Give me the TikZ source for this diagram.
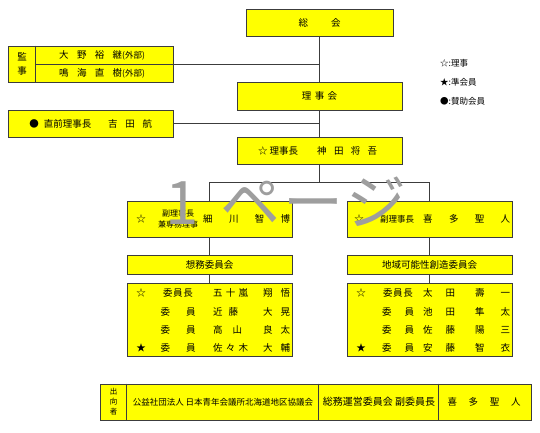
\documentclass[tikz,border=0pt]{standalone}
\usepackage{fontspec}
\setmainfont{Noto Sans CJK JP}
\usetikzlibrary{positioning,calc}
\definecolor{boxyellow}{RGB}{255,255,0}
\definecolor{edgegray}{RGB}{60,60,60}

\begin{document}
\begin{tikzpicture}[
  x=1pt, y=-1pt,
  font=\fontsize{9.5}{11}\selectfont,
  box/.style={draw=edgegray, line width=0.8pt, fill=boxyellow, rectangle, inner sep=0pt, minimum width=165pt},
  conn/.style={draw=edgegray, line width=0.7pt},
  txt/.style={inner sep=0pt},
  small/.style={font=\fontsize{8.5}{10}\selectfont}
]
\fill[white] (0,0) rectangle (540,432);
\useasboundingbox (0,0) rectangle (540,432);

% top of the chart
\node[box, minimum width=147pt, minimum height=27pt] (soukai) at (319.5,22.5) {総\hspace{23pt}会};
\node[box, minimum height=28pt] (rijikai) at (319.5,96) {理\hspace{3.5pt}事\hspace{3.5pt}会};
\node[box, minimum height=27pt] (rijicho) at (319.5,150.5) {};
\node[txt, anchor=west] (rijicholabel) at (258,150.5) {☆\hspace{2pt}理事長\hspace{19pt}\makebox[60pt][s]{神\hfill 田\hfill 将\hfill 吾}};

% auditors and past chairman
\node[box, minimum height=36pt] (kanji) at (90.5,64) {};
\draw[conn] ([xshift=28pt]kanji.north west) -- ([xshift=28pt]kanji.south west);
\draw[conn] ([xshift=28pt]kanji.west) -- (kanji.east);
\node[txt, align=center, font=\fontsize{9.5}{14}\selectfont] (kanjilabel) at (22,64) {監\\事};
\node[txt, anchor=west] (kanji1) at (59,55) {\makebox[63pt][s]{大\hfill 野\hfill 裕\hfill 継}{\fontsize{8.5}{9}\selectfont(外部)}};
\node[txt, anchor=west] (kanji2) at (59,73) {\makebox[63pt][s]{鳴\hfill 海\hfill 直\hfill 樹}{\fontsize{8.5}{9}\selectfont(外部)}};

\node[box, minimum height=27pt] (zen) at (90.5,123.5) {};
\node[txt] (zenmark) at (34,123.5) {●};
\node[txt] (zentitle) at (67.5,123.5) {直前理事長};
\node[txt, anchor=west] (zenname) at (108,123.5) {\makebox[44pt][s]{吉\hfill 田\hfill 航}};

% legend
\node[txt, anchor=west, small] (legend1) at (440,63) {☆:理事};
\node[txt, anchor=west, small] (legend2) at (440,82) {★:準会員};
\node[txt, anchor=west, small] (legend3) at (440,101) {●:賛助会員};

% vice chairmen
\coordinate (split) at (319.5,182);
\node[box, minimum height=36pt] (fukuL) at (209.5,219) {};
\node[txt] (fukuLmark) at (141,219) {☆};
\node[txt, align=center, font=\fontsize{8}{10.5}\selectfont] (fukuLtitle) at (178,219) {副理事長\\兼専務理事};
\node[txt, anchor=west] (fukuLname) at (203,219) {\makebox[87pt][s]{細\hfill 川\hfill 智\hfill 博}};

\node[box, minimum height=36pt] (fukuR) at (429.5,219) {};
\node[txt] (fukuRmark) at (359,219) {☆};
\node[txt, font=\fontsize{8.5}{10}\selectfont] (fukuRtitle) at (397,219) {副理事長};
\node[txt, anchor=west] (fukuRname) at (423,219) {\makebox[87pt][s]{喜\hfill 多\hfill 聖\hfill 人}};

% committees
\node[box, minimum height=19pt] (soumu) at (209.5,264.5) {想務委員会};
\node[box, minimum height=19pt] (chiiki) at (429.5,264.5) {地域可能性創造委員会};

\node[box, minimum height=73pt] (memL) at (209.5,319.5) {};
\node[box, minimum height=73pt] (memR) at (429.5,319.5) {};

\foreach \i/\ypos/\mk/\tw/\ttl/\sw/\sur/\given in {
  1/293/☆/30/{委\hfill 員\hfill 長}/35/{五\hfill 十\hfill 嵐}/{翔\hfill 悟},
  2/312//35/{委\hfill 員}/25/{近\hfill 藤}/{大\hfill 晃},
  3/330//35/{委\hfill 員}/29/{高\hfill 山}/{良\hfill 太},
  4/348/★/35/{委\hfill 員}/35/{佐\hfill 々\hfill 木}/{大\hfill 輔}} {
  \node[txt] (memLmark\i) at (141,\ypos) {\mk};
  \node[txt] (memLtitle\i) at (178,\ypos) {\makebox[\tw pt][s]{\ttl}};
  \node[txt, anchor=west] (memLsur\i) at (213,\ypos) {\makebox[\sw pt][s]{\sur}};
  \node[txt, anchor=west] (memLgiven\i) at (263,\ypos) {\makebox[27pt][s]{\given}};
}

\foreach \i/\ypos/\mk/\tw/\ttl/\sur/\given in {
  1/293/☆/30/{委\hfill 員\hfill 長}/{太\hfill 田}/{壽\hfill 一},
  2/312//32/{委\hfill 員}/{池\hfill 田}/{隼\hfill 太},
  3/330//32/{委\hfill 員}/{佐\hfill 藤}/{陽\hfill 三},
  4/348/★/32/{委\hfill 員}/{安\hfill 藤}/{智\hfill 衣}} {
  \node[txt] (memRmark\i) at (361,\ypos) {\mk};
  \node[txt] (memRtitle\i) at (398,\ypos) {\makebox[\tw pt][s]{\ttl}};
  \node[txt, anchor=west] (memRsur\i) at (423,\ypos) {\makebox[32pt][s]{\sur}};
  \node[txt, anchor=west] (memRgiven\i) at (475,\ypos) {\makebox[35pt][s]{\given}};
}

% seconded member
\node[box, minimum width=431pt, minimum height=36pt] (shukko) at (315.5,402) {};
\draw[conn] ([xshift=27pt]shukko.north west) -- ([xshift=27pt]shukko.south west);
\draw[conn] ([xshift=219pt]shukko.north west) -- ([xshift=219pt]shukko.south west);
\draw[conn] ([xshift=339pt]shukko.north west) -- ([xshift=339pt]shukko.south west);
\node[txt, align=center, font=\fontsize{7.5}{10}\selectfont] (shukkolabel) at (113.5,402) {出\\向\\者};
\node[txt, font=\fontsize{8.5}{10}\selectfont] (shukkoorg) at (223,402) {公益社団法人\ 日本青年会議所北海道地区協議会};
\node[txt, font=\fontsize{10}{11}\selectfont] (shukkopost) at (379,402) {総務運営委員会\ 副委員長};
\node[txt] (shukkoname) at (484,402) {\makebox[73pt][s]{喜\hfill 多\hfill 聖\hfill 人}};

% connectors
\draw[conn] (soukai.south) -- (rijikai.north);
\draw[conn] (rijikai.south) -- (rijicho.north);
\draw[conn] (kanji.east) -- (kanji.east -| soukai.south);
\draw[conn] (zen.east) -- (zen.east -| rijikai.south);
\draw[conn] (rijicho.south) -- (split);
\draw[conn] (split) -| (fukuL.north);
\draw[conn] (split) -| (fukuR.north);
\draw[conn] (fukuL.south) -- (soumu.north);
\draw[conn] (soumu.south) -- (memL.north);
\draw[conn] (fukuR.south) -- (chiiki.north);
\draw[conn] (chiiki.south) -- (memR.north);

% page mark
\node[txt, anchor=west, text=black!38, font=\fontsize{60}{60}\selectfont] (pagemark) at (165,202) {1\hspace{22pt}ペ\hspace{3pt}ー\hspace{3pt}ジ};
\end{tikzpicture}
\end{document}
